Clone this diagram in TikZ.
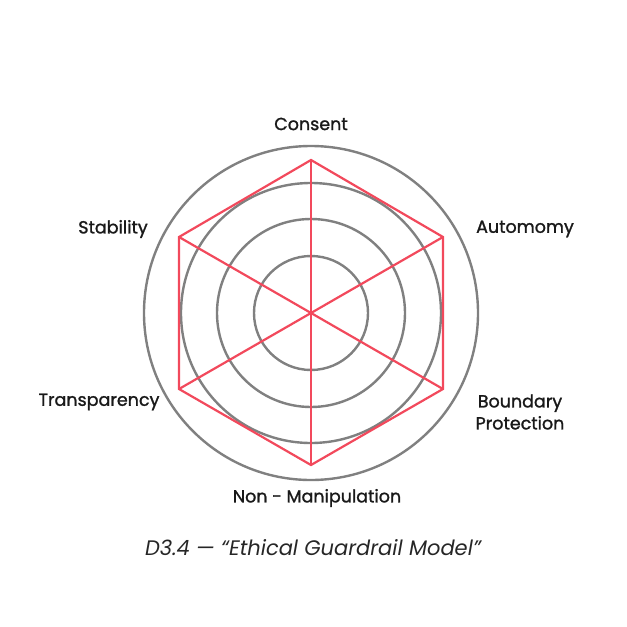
\documentclass[tikz,border=0pt]{standalone}
\usepackage{fontspec}
\setmainfont{Poppins}[AutoFakeBold=1.3]
\usetikzlibrary{calc}
\definecolor{ringgray}{HTML}{808080}
\definecolor{guardred}{HTML}{F2495C}
\begin{document}
\begin{tikzpicture}[x=1pt,y=-1pt]
        \tikzset{ring/.style={draw=ringgray,line width=2.4pt}}
        \tikzset{guard/.style={draw=guardred,line width=2.2pt}}
        \tikzset{lbl/.style={font=\fontsize{17.5}{22}\selectfont\bfseries,text=black!90,align=center}}
        \useasboundingbox (0,0) rectangle (627,627);

        \coordinate (c) at (311,313);
        \foreach \r in {167,130,94,57}
            \draw [ring] (c) circle (\r);

        % hexagon corners
        \coordinate (v1) at (311,160);
        \coordinate (v2) at (443,237);
        \coordinate (v3) at (443,389);
        \coordinate (v4) at (311,465);
        \coordinate (v5) at (179,389);
        \coordinate (v6) at (179,237);

        \draw [guard,line join=miter] (v1) -- (v2) -- (v3) -- (v4) -- (v5) -- (v6) -- cycle;
        \draw [guard] (v1) -- (v4);
        \draw [guard] (v2) -- (v5);
        \draw [guard] (v3) -- (v6);

        \node [lbl] (consent) at (311,124) {Consent};
        \node [lbl] (autonomy) at (525,229) {Automomy};
        \node [lbl] (stability) at (113,229) {Stability};
        \node [lbl] (boundary) at (520,412) {Boundary\\Protection};
        \node [lbl] (transp) at (99,402) {Transparency};
        \node [lbl] (nonmanip) at (317,498) {Non - Manipulation};
        \node [font=\fontsize{21}{25}\selectfont\itshape,text=black!85] (caption) at (313,548) {D3.4 — “Ethical Guardrail Model”};
\end{tikzpicture}
\end{document}
